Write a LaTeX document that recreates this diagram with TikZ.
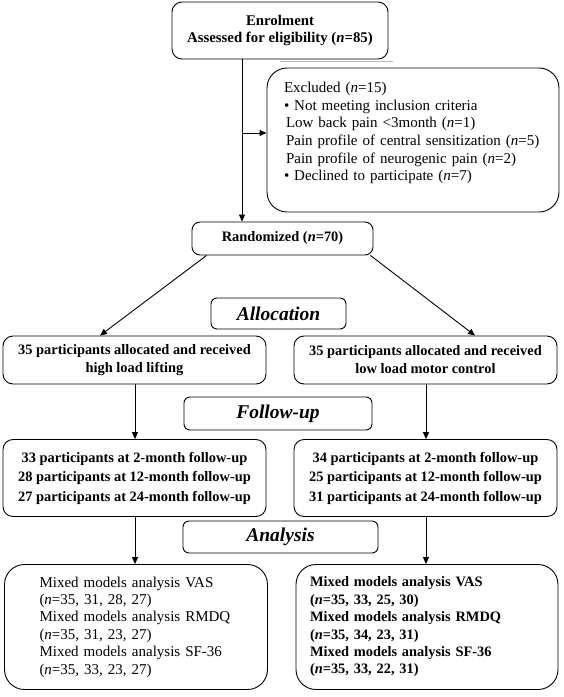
\documentclass[tikz,border=0pt]{standalone}
\usepackage{fontspec}
\setmainfont{Liberation Serif}
\usetikzlibrary{arrows.meta}
\begin{document}
\begin{tikzpicture}[x=1pt,y=-1pt,
  box/.style={draw, line width=0.9pt, rounded corners=10pt, inner sep=3pt, align=center,
    font=\fontsize{14.4}{18}\selectfont\bfseries},
  bigbox/.style={draw, line width=0.9pt, rounded corners=20pt, inner sep=3pt, align=left},
  plain/.style={inner sep=0pt, align=left},
  lbl/.style={draw, line width=0.9pt, rounded corners=6pt, inner sep=2pt,
    font=\fontsize{19.5}{22}\selectfont\bfseries\itshape},
  arr/.style={line width=0.9pt, -{Triangle[length=7pt,width=6pt]}},
  ln/.style={line width=0.9pt}]
\useasboundingbox (0,0) rectangle (564,697);

% boxes
\node[box, minimum width=216pt, minimum height=57pt, font=\fontsize{14.8}{17.5}\selectfont\bfseries]
  (enrol) at (280,30.5) {Enrolment\\Assessed for eligibility (\textit{n}=85)};
\node[bigbox, minimum width=292pt, minimum height=144pt] (excl) at (413,140) {};
\node[plain, text width=258pt, font=\fontsize{15}{17.7}\selectfont]
  (exclt) at (413,133) {Excluded (\textit{n}=15)\\
  \textbullet\ Not meeting inclusion criteria\\
  \hspace*{2pt}Low back pain \textless3month (\textit{n}=1)\\
  \hspace*{2pt}Pain profile of central sensitization (\textit{n}=5)\\
  \hspace*{2pt}Pain profile of neurogenic pain (\textit{n}=2)\\
  \textbullet\ Declined to participate (\textit{n}=7)};
\node[box, rounded corners=8pt, minimum width=181pt, minimum height=33pt]
  (rand) at (282.5,238.5) {Randomized (\textit{n}=70)};
\node[lbl, minimum width=135pt, minimum height=31pt] (alloc) at (278.5,313.5) {Allocation};
\node[box, minimum width=263pt, minimum height=48pt] (allocL) at (134.5,360)
  {35 participants allocated and received\\high load lifting};
\node[box, minimum width=263pt, minimum height=48pt] (allocR) at (425.5,360)
  {35 participants allocated and received\\low load motor control};
\node[lbl, minimum width=188pt, minimum height=33pt] (fu) at (278,413.5) {Follow-up};
\node[box, minimum width=263pt, minimum height=77pt, font=\fontsize{14.4}{19.5}\selectfont\bfseries]
  (fuL) at (134.5,478)
  {33 participants at 2-month follow-up\\28 participants at 12-month follow-up\\27 participants at 24-month follow-up};
\node[box, minimum width=263pt, minimum height=77pt, font=\fontsize{14.4}{19.5}\selectfont\bfseries]
  (fuR) at (425.5,478)
  {34 participants at 2-month follow-up\\25 participants at 12-month follow-up\\31 participants at 24-month follow-up};
\node[lbl, minimum width=195pt, minimum height=32pt] (an) at (280.5,537) {Analysis};
\node[bigbox, minimum width=263pt, minimum height=125pt, text width=193pt,
  font=\fontsize{15}{17.4}\selectfont]
  (anL) at (136,627)
  {Mixed models analysis VAS\\(\textit{n}=35, 31, 28, 27)\\Mixed models analysis RMDQ\\(\textit{n}=35, 31, 23, 27)\\Mixed models analysis SF-36\\(\textit{n}=35, 33, 23, 27)};
\node[bigbox, minimum width=262pt, minimum height=125pt, text width=234pt,
  font=\fontsize{14.4}{17.4}\selectfont\bfseries]
  (anR) at (427,627)
  {Mixed models analysis VAS\\(\textit{n}=35, 33, 25, 30)\\Mixed models analysis RMDQ\\(\textit{n}=35, 34, 23, 31)\\Mixed models analysis SF-36\\(\textit{n}=35, 33, 22, 31)};

% faint grey line under the enrolment box
\coordinate (g1) at (280,61.5);
\coordinate (g2) at (393,61.5);
\draw[gray!55, line width=0.8pt] (g1) -- (g2);

% connectors
\coordinate (cx) at (242,0);
\coordinate (jx) at (242,133);
\draw[arr] (enrol.south -| cx) -- (rand.north -| cx);
\draw[arr] (jx) -- (jx -| excl.west);
\draw[arr] ([xshift=15pt]rand.south west) -- ([xshift=-34.5pt]allocL.north);
\draw[arr] ([xshift=-3pt]rand.south east) -- ([xshift=49.5pt]allocR.north);
\coordinate (lx) at (135,0);
\coordinate (rx) at (426,0);
\draw[arr] (allocL.south -| lx) -- (fuL.north -| lx);
\draw[arr] (allocR.south -| rx) -- (fuR.north -| rx);
\draw[arr] (fuL.south -| lx) -- (anL.north -| lx);
\draw[arr] (fuR.south -| rx) -- (anR.north -| rx);
\end{tikzpicture}
\end{document}
